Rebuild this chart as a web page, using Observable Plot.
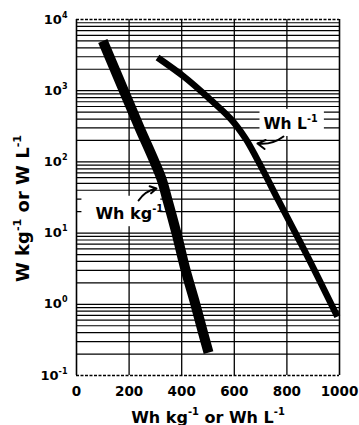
<!DOCTYPE html>
<html><head><meta charset="utf-8">
<script src="https://cdn.jsdelivr.net/npm/d3@7"></script>
<script src="https://cdn.jsdelivr.net/npm/@observablehq/plot@0.6"></script>
<style>body{margin:0;background:#fff}</style>
</head><body><div id="chart"></div>
<script>
// Wh kg^-1 curve (specific energy vs specific power)
const whkgEnergy = [100, 180, 240, 297, 323, 345, 380, 415, 452, 481, 502];
const whkgPower  = [5000, 1000, 300, 100, 58, 30, 10, 3, 1, 0.4, 0.21];
// Wh L^-1 curve (energy density vs power density)
const whLEnergy = [308, 410, 509, 585, 642, 688, 768, 867, 992];
const whLPower  = [2925, 1560, 750, 407, 215, 107, 28.7, 5.7, 0.67];

const xTicks = [0, 200, 400, 600, 800, 1000];
const yTicks = [0.1, 1, 10, 100, 1000, 10000];
const xGrid = [200, 400, 600, 800];
const mantissas = [1, 2, 3, 4, 5, 6, 7, 8, 9];
const yGrid = yTicks.slice(0, -1).flatMap(d => mantissas.map(m => +(m * d).toPrecision(3))).filter(v => v > 0.1);

const xTitle = "Wh kg^-1 or Wh L^-1";
const yTitle = "W kg^-1 or W L^-1";
const labelKg = {text: "Wh kg^-1", x: 72, y: 18.5};
const labelL  = {text: "Wh L^-1", x: 711, y: 340};
const arrowKg = {x1: 236, y1: 28.7, x2: 304, y2: 42.3};
const arrowL  = {x1: 787, y1: 227, x2: 688, y2: 181};

const kgData = whkgEnergy.map((x, i) => ({x, y: whkgPower[i]}));
const lData = whLEnergy.map((x, i) => ({x, y: whLPower[i]}));

const svg = Plot.plot({
  width: 359, height: 425,
  marginLeft: 76, marginRight: 20, marginTop: 19, marginBottom: 50,
  style: {fontFamily: "'DejaVu Sans', sans-serif", fontWeight: "bold", color: "black", background: "white", overflow: "visible"},
  x: {domain: [0, 1000]},
  y: {type: "log", domain: [0.1, 10000]},
  marks: [
    Plot.ruleY(yGrid, {stroke: "black", strokeWidth: 1.2}),
    Plot.ruleX(xGrid, {stroke: "black", strokeWidth: 1.3}),
    Plot.ruleY([0.1, 10000], {stroke: "black", strokeWidth: 1.6, strokeDasharray: "3,1.5"}),
    Plot.ruleX([0, 1000], {stroke: "black", strokeWidth: 1.6}),
    Plot.line(kgData, {x: "x", y: "y", stroke: "black", strokeWidth: 10, curve: "monotone-y", strokeLinecap: "butt"}),
    Plot.line(lData, {x: "x", y: "y", stroke: "black", strokeWidth: 6.5, curve: "monotone-y", strokeLinecap: "butt"}),
    Plot.arrow([arrowKg, arrowL], {x1: "x1", y1: "y1", x2: "x2", y2: "y2", bend: 22, stroke: "black", strokeWidth: 2, headLength: 7}),
    Plot.text([labelKg], {x: "x", y: "y", text: "text", textAnchor: "start", fontSize: 16, fill: "black"}),
    Plot.text([labelL], {x: "x", y: "y", text: "text", textAnchor: "start", fontSize: 15.5, fill: "black"}),
    Plot.axisX({ticks: xTicks, tickFormat: d => String(d), tickSize: 0, tickPadding: 11, fontSize: 13.5, label: null}),
    Plot.axisY({ticks: yTicks, tickFormat: d => "10^" + Math.round(Math.log10(d)), tickSize: 0, tickPadding: 9, fontSize: 13, label: null}),
    Plot.text([xTitle], {text: d => d, frameAnchor: "bottom", textAnchor: "middle", dy: 47, fontSize: 16, fill: "black"}),
    Plot.text([yTitle], {text: d => d, frameAnchor: "left", textAnchor: "middle", lineAnchor: "middle", dx: -53, dy: 11, rotate: -90, fontSize: 18, fill: "black"})
  ]
});
document.getElementById("chart").appendChild(svg);

// superscripts
const ns = "http://www.w3.org/2000/svg";
svg.querySelectorAll("text").forEach(t => {
  const s = t.textContent;
  if (!s.includes("^")) return;
  t.textContent = "";
  let raised = false;
  for (const p of s.split(/(\^\S+)/).filter(p => p)) {
    const ts = document.createElementNS(ns, "tspan");
    if (p[0] === "^") {
      ts.textContent = p.slice(1);
      ts.setAttribute("font-size", "62%");
      ts.setAttribute("dy", "-0.75em");
      raised = true;
    } else {
      ts.textContent = p;
      if (raised) { ts.setAttribute("dy", "0.465em"); raised = false; }
    }
    t.appendChild(ts);
  }
});

// white boxes behind the curve labels (inserted under the curves)
const sr = svg.getBoundingClientRect();
const lineGroups = svg.querySelectorAll('g[aria-label="line"]');
const textGroups = svg.querySelectorAll('g[aria-label="text"]');
const before = lineGroups[0];
[[textGroups[0], [14, 7, -3, 3]], [textGroups[1], [4, 4, 6, 3]]].forEach(([g, pad]) => {
  if (!g || !before) return;
  const t = g.querySelector("text");
  const r = t.getBoundingClientRect();
  const rect = document.createElementNS(ns, "rect");
  rect.setAttribute("x", r.left - sr.left - pad[0]);
  rect.setAttribute("y", r.top - sr.top - pad[1]);
  rect.setAttribute("width", r.width + pad[0] + pad[2]);
  rect.setAttribute("height", r.height + pad[1] + pad[3]);
  rect.setAttribute("fill", "white");
  before.parentNode.insertBefore(rect, before);
});
</script>
</body></html>
